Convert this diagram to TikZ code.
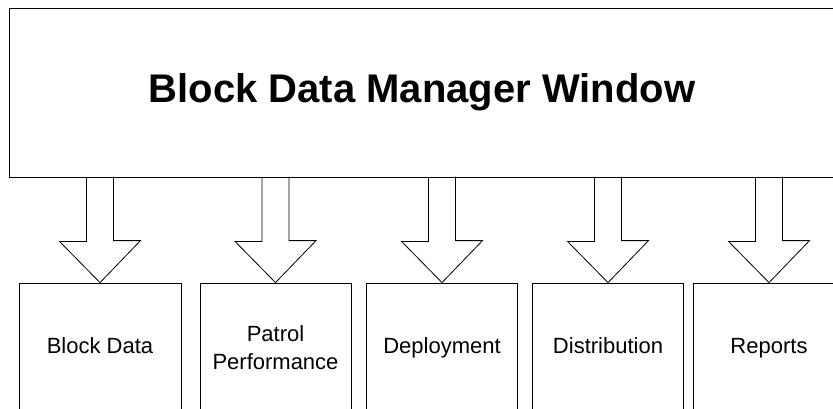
\documentclass[tikz,border=0pt]{standalone}
\usepackage{fontspec}
\setmainfont{Liberation Sans}
\usetikzlibrary{calc}
\usetikzlibrary{positioning}

\tikzset{
  window/.style={draw, line width=0.8pt, minimum width=826pt, minimum height=169pt,
    font=\bfseries\fontsize{40}{48}\selectfont},
  panel/.style={draw, line width=0.8pt, minimum width=151pt, minimum height=129pt,
    align=center, font=\fontsize{22}{28}\selectfont},
  oneline/.style={text height=16pt, text depth=5pt},
  hollow/.style={draw, line width=0.8pt, line join=miter}
}

\begin{document}
\begin{tikzpicture}[x=1pt,y=-1pt]
\useasboundingbox (0,0) rectangle (833,409);
\clip (0,0) rectangle (833,409);
% main window
\node[window] (mgr) at (422,92.5) {Block Data Manager Window};
% the five panels
\node[panel, oneline, minimum width=162pt] (bd) at (100,347.5) {Block Data};
\node[panel] (pp) at (275.5,347.5) {Patrol\\Performance};
\node[panel, oneline] (dp) at (442,347.5) {Deployment};
\node[panel, oneline] (ds) at (608,347.5) {Distribution};
\node[panel, oneline] (rp) at (769,347.5) {Reports};
% hollow arrows
\foreach \n in {bd,pp,dp,ds,rp}
  \draw[hollow] ($(\n.north |- mgr.south)+(-13.5,0)$) -- ++(0,64) -- ++(-27,0)
    -- (\n.north) -- ++(40.5,-42) -- ++(-27,0) -- ++(0,-64);
\end{tikzpicture}
\end{document}
